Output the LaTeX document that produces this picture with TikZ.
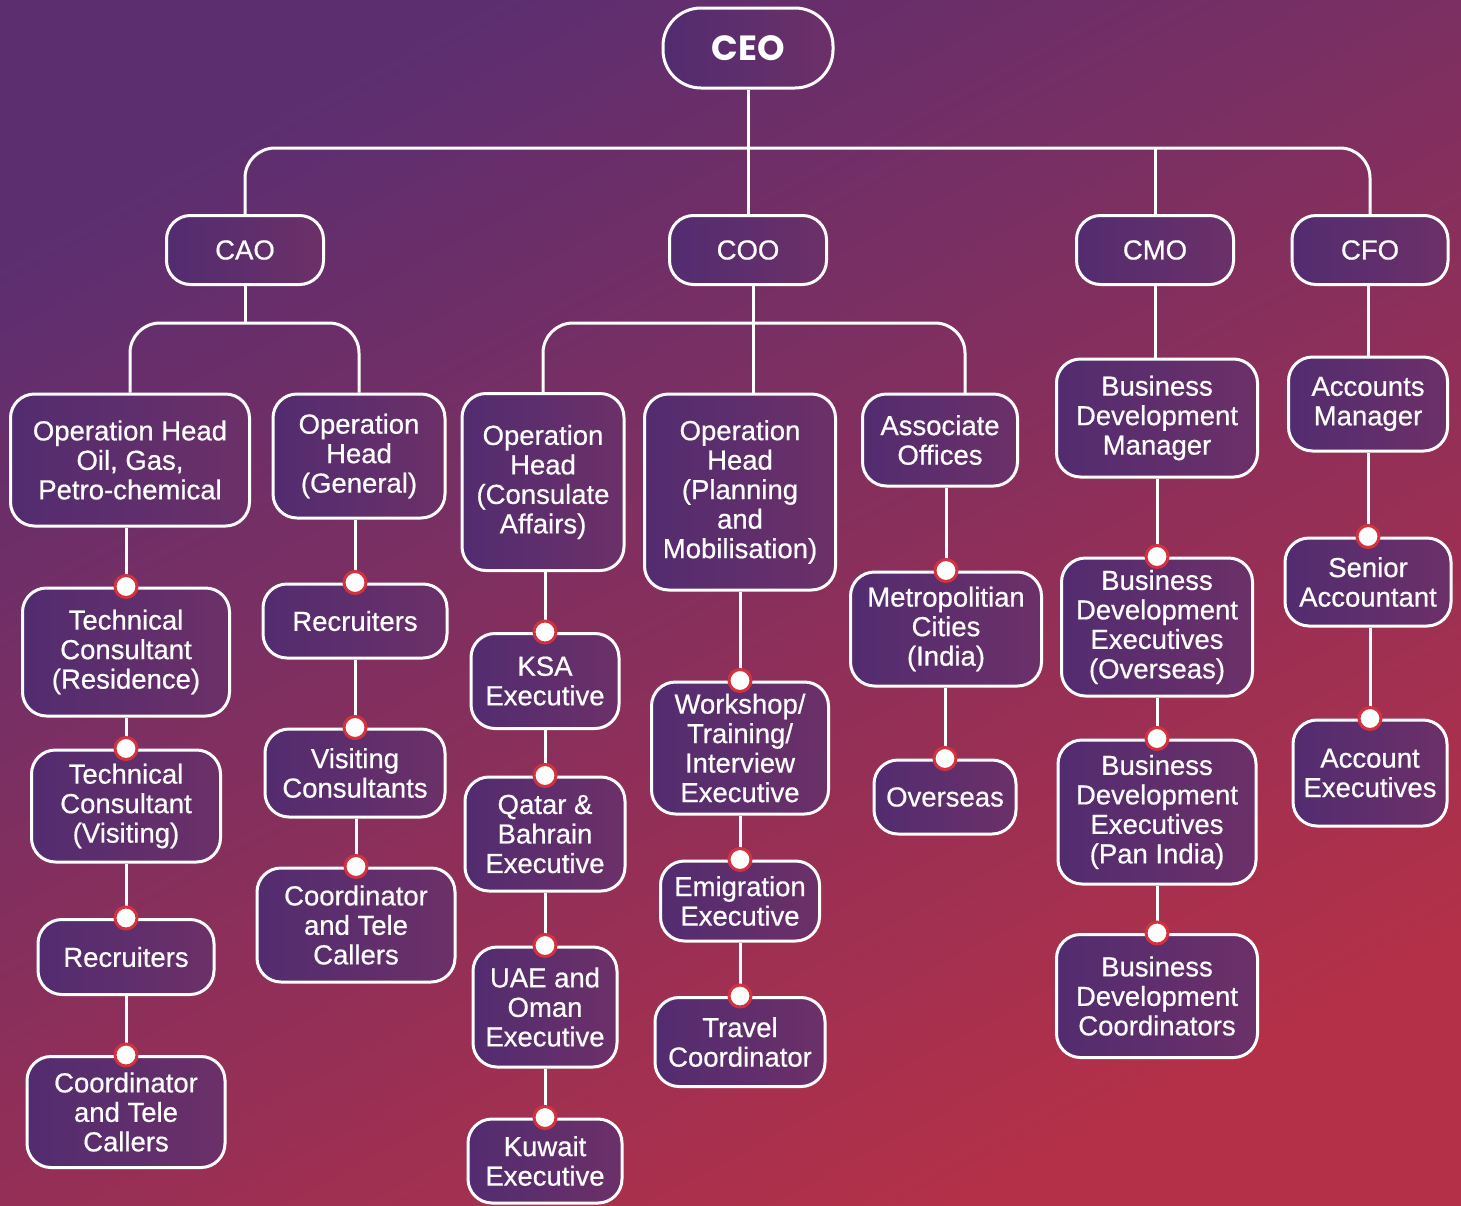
\documentclass[tikz,border=0pt]{standalone}
\usepackage{fontspec}
\setmainfont{Liberation Sans}[FakeBold=0.6]
\newfontfamily\ceofont{Poppins}
\definecolor{bgtop}{RGB}{92,46,112}
\definecolor{bgbot}{RGB}{180,48,72}
\definecolor{boxleft}{RGB}{82,44,112}
\definecolor{boxright}{RGB}{108,48,104}
\definecolor{dotred}{RGB}{210,50,62}

\begin{document}
\begin{tikzpicture}[x=1pt, y=-1pt,
        every node/.style={font=\fontsize{27.5}{29.5}\selectfont, text=white, align=center},
        box/.style 2 args={draw=white, line width=3pt, rounded corners=24pt,
            left color=boxleft, right color=boxright,
            minimum width=#1pt, minimum height=#2pt, inner sep=0pt},
        link/.style={draw=white, line width=3pt},
        pin/.style={circle, draw=dotred, line width=3pt, fill=white,
            minimum size=22pt, inner sep=0pt}]

    % background
    \shade[top color=bgtop, bottom color=bgbot, shading angle=28] (0,0) rectangle (1461,1205);
    \useasboundingbox (0,0) rectangle (1461,1205);

    % top levels
    \node[box={170}{80}, rounded corners=38pt, font=\ceofont\bfseries\fontsize{35}{37}\selectfont] (ceo) at (748,48) {CEO};
    \node[box={157}{69}] (cao) at (245,250) {CAO};
    \node[box={157}{69}] (coo) at (748,250) {COO};
    \node[box={157}{69}] (cmo) at (1155,250) {CMO};
    \node[box={156}{69}] (cfo) at (1370,250) {CFO};

    % CAO
    \node[box={239}{132}] (opoil) at (130,460) {Operation Head\\Oil, Gas,\\Petro-chemical};
    \node[box={172}{124}] (opgen) at (359,456) {Operation\\Head\\(General)};
    \node[box={207}{128}] (techres) at (126,652) {Technical\\Consultant\\(Residence)};
    \node[box={189}{112}] (techvis) at (126,806) {Technical\\Consultant\\(Visiting)};
    \node[box={176}{75}] (recoil) at (126,957) {Recruiters};
    \node[box={198}{111}] (teleoil) at (126,1112) {Coordinator\\and Tele\\Callers};
    \node[box={184}{74}] (recgen) at (355,621) {Recruiters};
    \node[box={180}{88}] (visgen) at (355,773) {Visiting\\Consultants};
    \node[box={198}{114}] (telegen) at (356,925) {Coordinator\\and Tele\\Callers};

    % COO
    \node[box={162}{177}] (opcons) at (543,482) {Operation\\Head\\(Consulate\\Affairs)};
    \node[box={191}{196}] (opplan) at (740,492) {Operation\\Head\\(Planning\\and\\Mobilisation)};
    \node[box={155}{92}] (assoc) at (940,440) {Associate\\Offices};
    \node[box={148}{95}] (ksa) at (545,681) {KSA\\Executive};
    \node[box={160}{114}] (qatar) at (545,834) {Qatar \&\\Bahrain\\Executive};
    \node[box={144}{120}] (uae) at (545,1007) {UAE and\\Oman\\Executive};
    \node[box={154}{84}] (kuwait) at (545,1161) {Kuwait\\Executive};
    \node[box={177}{132}] (workshop) at (740,748) {Workshop/\\Training/\\Interview\\Executive};
    \node[box={159}{80}] (emig) at (740,901) {Emigration\\Executive};
    \node[box={170}{89}] (travel) at (740,1042) {Travel\\Coordinator};
    \node[box={191}{114}] (metro) at (946,629) {Metropolitian\\Cities\\(India)};
    \node[box={142}{74}] (overseas) at (945,797) {Overseas};

    % CMO
    \node[box={201}{118}] (bdm) at (1157,418) {Business\\Development\\Manager};
    \node[box={191}{138}] (bdeover) at (1157,627) {Business\\Development\\Executives\\(Overseas)};
    \node[box={198}{144}] (bdepan) at (1157,812) {Business\\Development\\Executives\\(Pan India)};
    \node[box={201}{123}] (bdcoord) at (1157,996) {Business\\Development\\Coordinators};

    % CFO
    \node[box={159}{94}] (accmgr) at (1368,404) {Accounts\\Manager};
    \node[box={166}{88}] (senacc) at (1368,582) {Senior\\Accountant};
    \node[box={154}{106}] (accexec) at (1370,773) {Account\\Executives};

    % brackets
    \coordinate (ceobar) at (748,148);
    \coordinate (caobar) at (245,323);
    \coordinate (coobar) at (753,323);
    \coordinate (associn) at (965,393);
    \draw[link, rounded corners=30pt] (cao.north) |- (ceobar) -| (cfo.north);
    \draw[link] (ceo.south) -- (coo.north);
    \draw[link] (cmo.north) -- (cmo.north |- ceobar);
    \draw[link, rounded corners=30pt] (opoil.north) |- (caobar) -| (opgen.north);
    \draw[link] (cao.south) -- (caobar);
    \draw[link, rounded corners=30pt] (opcons.north) |- (coobar) -| (associn);
    \draw[link] (coobar |- coo.south) -- (coobar |- opplan.north);
    \draw[link] (cmo.south) -- (cmo.south |- bdm.north);
    \draw[link] (accmgr.north |- cfo.south) -- (accmgr.north);

    % chains with pins
    \foreach \a/\b in {opoil/techres, techres/techvis, techvis/recoil, recoil/teleoil,
            opgen/recgen, recgen/visgen, visgen/telegen,
            opcons/ksa, ksa/qatar, qatar/uae, uae/kuwait,
            opplan/workshop, workshop/emig, emig/travel,
            assoc/metro, metro/overseas,
            bdm/bdeover, bdeover/bdepan, bdepan/bdcoord,
            accmgr/senacc, senacc/accexec} {
        \draw[link] (\b.north |- \a.south) -- (\b.north);
        \node[pin] (pin-\b) at (\b.north) {};
    }
\end{tikzpicture}
\end{document}
